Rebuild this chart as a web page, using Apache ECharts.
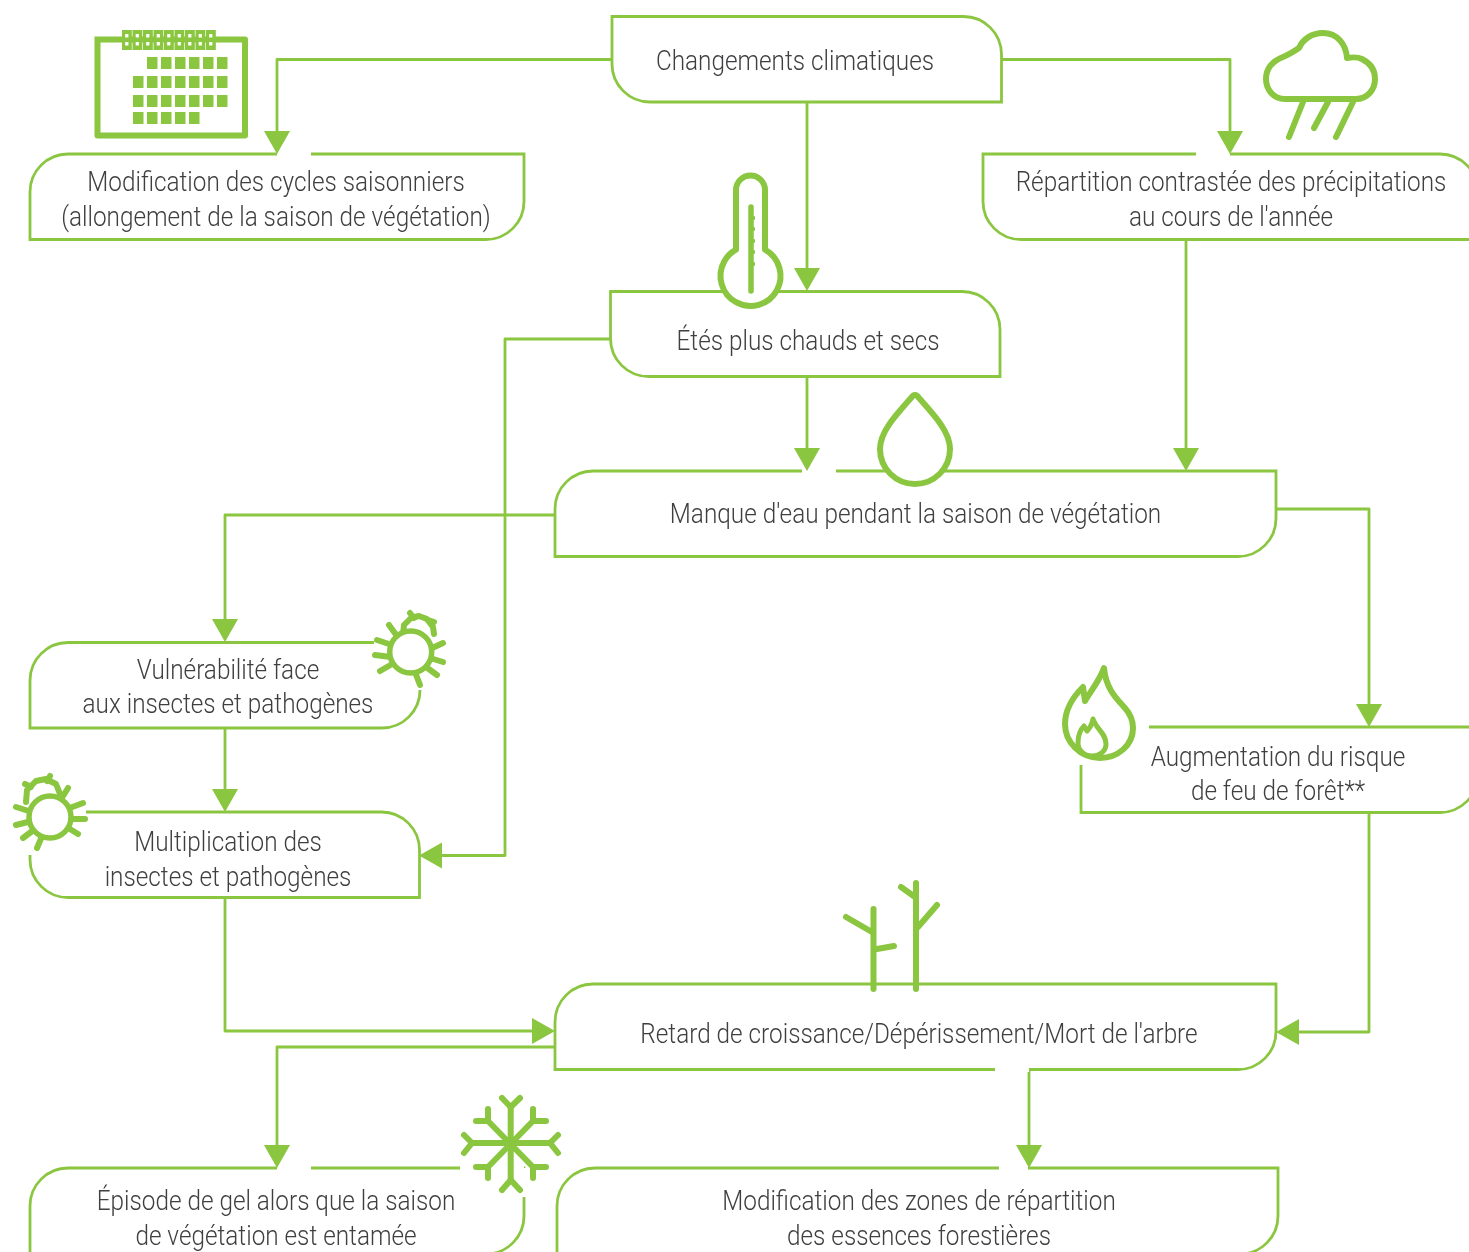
<!DOCTYPE html>
<html><head><meta charset="utf-8">
<script src="https://cdn.jsdelivr.net/npm/echarts@6/dist/echarts.min.js"></script>
<style>html,body{margin:0;padding:0;background:#fff}#c{width:1469px;height:1252px}</style></head>
<body><div id="c"></div>
<script>
const GREEN='#8AC63F', INK='#3F3F41';
// node captions
const nodeLines=[
 ['Changements climatiques'],
 ['Modification des cycles saisonniers','(allongement de la saison de végétation)'],
 ['Répartition contrastée des précipitations','au cours de l\'année'],
 ['Étés plus chauds et secs'],
 ['Manque d\'eau pendant la saison de végétation'],
 ['Vulnérabilité face','aux insectes et pathogènes'],
 ['Multiplication des','insectes et pathogènes'],
 ['Augmentation du risque','de feu de forêt**'],
 ['Retard de croissance/Dépérissement/Mort de l\'arbre'],
 ['Épisode de gel alors que la saison','de végétation est entamée'],
 ['Modification des zones de répartition','des essences forestières']
];
// caption anchors: centre x, centre y of each line
const nodeTextX=[795,276,1231,808,915.5,228,228,1278,919,276,919];
const nodeTextY=[[63],[184,219],[184,219],[343],[516],[672,706],[844,879],[759,793],[1036],[1203,1238],[1203,1238]];
// frames: x0,y0,x1,y1, radius TL,TR,BR,BL
const nodeFrames=[
 [612,16.5,1001.5,102,0,38,0,38],
 [30,154,524,239.5,38,0,38,0],
 [983,154,1478,239.5,0,38,0,38],
 [610.5,291.5,1000,376.5,0,38,0,38],
 [555,471,1276,556.5,38,0,38,0],
 [30,642.5,420,728,38,0,38,0],
 [30,812,419.5,897.5,0,38,0,38],
 [1081,727,1478,812.5,0,0,38,0],
 [555,984,1276,1069.5,38,0,38,0],
 [30,1168,524,1254,38,0,38,0],
 [557,1168,1278,1254,38,0,38,0]
];
// openings in the frames
const frameGaps=[
 [[277,154],[311,154]],[[1196,154],[1230,154]],[[802,471],[836,471]],
 [[374,642.5],[420,642.5]],[[420,642.5],[420,690]],
 [[30,812],[86,812]],[[30,812],[30,855]],
 [[1081,727],[1149,727]],[[1081,727],[1081,765]],
 [[995,1069.5],[1029,1069.5]],[[277,1168],[311,1168]],[[460,1168],[524,1168]],[[524,1168],[524,1197]],
 [[999,1168],[1028,1168]]
];
// connectors
const links=[
 [[612,59.5],[277,59.5],[277,135]],
 [[1001,59.5],[1230,59.5],[1230,135]],
 [[807,102],[807,272]],
 [[807,376],[807,452]],
 [[1186,239],[1186,452]],
 [[610,339],[505,339],[505,855.5],[440,855.5]],
 [[555,515],[225,515],[225,623]],
 [[225,728],[225,793]],
 [[225,897],[225,1031],[535,1031]],
 [[1276,509],[1369,509],[1369,708]],
 [[1369,812],[1369,1032],[1296,1032]],
 [[555,1047],[277,1047],[277,1149]],
 [[1029,1069],[1029,1149]]
];
// arrowheads: tip x, tip y, direction
const arrowTips=[[277,154,'d'],[1230,154,'d'],[807,291,'d'],[807,471,'d'],[1186,471,'d'],[419,855.5,'l'],[225,642,'d'],[225,812,'d'],[555,1031,'r'],[1369,727,'d'],[1276,1032,'l'],[277,1168,'d'],[1029,1168,'d']];
// icons, as strokes: path commands in chart units
const bugBodies=[[410.7,652],[50,817]];
const bugMarks=[
 [[403,634],[404,625],[411,618],[419,616],[427,619],[433,627],[434,634]],
 [[410,613],[414,618]],[[434,622],[428,620]],
 [[389,625],[397,636]],[[377,640],[392,645]],[[375,655],[391,657]],[[380,671],[394,663]],
 [[420,685],[415,672]],[[437,675],[426,667]],[[443,662],[430,658]],[[443,643],[430,649]],
 [[26,802],[27,790],[36,781],[46,779],[56,784],[60,794]],
 [[25,784],[31,787]],[[50,776],[47,781]],
 [[68,788],[60,801]],[[83,803],[67,809]],[[85,819],[68,819]],[[78,834],[65,826]],
 [[37,848],[43,834]],[[23,838],[35,829]],[[16,825],[32,821]],[[16,807],[32,812]]
];
const cloudShape=[['M',1285,99],['C',1273,99,1266,89,1266,79],['C',1266,68,1273,61,1283,57],['C',1290,54,1296,50,1299,48],['C',1303,39,1312,33,1323,33],['C',1337,33,1346,44,1347,58],['C',1353,57,1358,57,1362,59],['C',1370,63,1375,70,1375,79],['C',1375,90,1367,99,1356,99],['Z']];
const rainMarks=[[[1303,102],[1289,137]],[[1328,102],[1314,128]],[[1353,102],[1336,137]]];
const thermoShape=[['M',736,249.7],['L',736,190],['A',14.5,14.5,0,0,1,765,190],['L',765,249.7],['A',30,30,0,1,1,736,249.7],['Z']];
const thermoMarks=[[[751,207],[751,291]]];
const thermoTicks=[[[751,218],[755,218]],[[751,229],[755,229]],[[751,241],[755,241]],[[751,252],[755,252]],[[751,264],[755,264]]];
const dropShape=[['M',915,395],['Q',917,395,919,398],['C',935,416,950,432,950,449],['A',35,35,0,1,1,880,449],['C',880,432,895,416,911,398],['Q',913,395,915,395],['Z']];
const flameShape=[['M',1104,668],['C',1106,690,1118,700,1125,708],['C',1132,716,1133,722,1133,728],['C',1133,745,1118,758,1100,758],['C',1080,758,1065,742,1065,724],['C',1065,708,1075,695,1083,687],['L',1085,701],['C',1090,692,1100,680,1104,668],['Z']];
const flameInner=[['M',1093,719],['C',1096,729,1106,733,1106,744],['C',1106,751,1100,756,1092,756],['C',1084,756,1078,750,1078,743],['C',1078,735,1081,729,1084,726],['L',1087,731],['C',1090,728,1092,724,1093,719],['Z']];
const treeMarks=[
 [[873.5,909],[873.5,989]],[[846,917],[872,932]],[[877,949],[894,946]],
 [[916,883],[916,989]],[[901,887],[915,897]],[[918,927],[937,905]]
];
const snowMarks=[
 [[510.7,1107],[510.7,1180]],[[502,1098],[510.7,1107]],[[520,1098],[510.7,1107]],[[502,1190],[510.7,1180]],[[520,1190],[510.7,1180]],
 [[472,1143],[550,1143]],[[464,1135],[472,1143]],[[464,1153],[472,1143]],[[558,1135],[550,1143]],[[558,1153],[550,1143]],
 [[488,1121],[533,1167]],[[533,1121],[488,1167]],
 [[488,1109],[488,1121]],[[476,1121],[488,1121]],[[533,1109],[533,1121]],[[546,1121],[533,1121]],
 [[476,1167],[488,1167]],[[488,1178],[488,1167]],[[546,1167],[533,1167]],[[533,1178],[533,1167]]
];
// calendar
const calFrame=[[97.5,39.5],[245,39.5],[245,135.5],[97.5,135.5]];
const binderX=[122,132.5,143,153.5,164,174.5,185,195.5,206];
const binderY=[30,41];
const cellRows=[
 {y:57,xs:[147,161,175,189,203,217]},
 {y:76,xs:[133,147,161,175,189,203,217]},
 {y:95,xs:[133,147,161,175,189,203,217]},
 {y:112,xs:[133,147,161,175,189]}
];

function pathOf(api,cmds){
  return cmds.map(c=>{
    if(c[0]==='Z')return 'Z';
    if(c[0]==='A'){const e=api.coord([c[6],c[7]]);return `A${c[1]} ${c[2]} ${c[3]} ${c[4]} ${c[5]} ${e[0]} ${e[1]}`;}
    let s=c[0];for(let i=1;i<c.length;i+=2){const p=api.coord([c[i],c[i+1]]);s+=p[0]+' '+p[1]+' ';}return s;
  }).join('');
}
function framePath(f){
  const [a,b,c,d,tl,tr,br,bl]=f;const o=[['M',a+tl,b],['L',c-tr,b]];
  if(tr)o.push(['A',tr,tr,0,0,1,c,b+tr]);o.push(['L',c,d-br]);
  if(br)o.push(['A',br,br,0,0,1,c-br,d]);o.push(['L',a+bl,d]);
  if(bl)o.push(['A',bl,bl,0,0,1,a,d-bl]);o.push(['L',a,b+tl]);
  if(tl)o.push(['A',tl,tl,0,0,1,a+tl,b]);o.push(['Z']);return o;
}
function line(api,pts,w,color,cap){return {type:'polyline',shape:{points:pts.map(p=>api.coord(p))},style:{stroke:color||GREEN,lineWidth:w,fill:null,lineCap:cap||'round',lineJoin:'round'}};}
function shape(api,cmds,w,fill){return {type:'path',shape:{pathData:pathOf(api,cmds)},style:{stroke:GREEN,lineWidth:w,fill:fill||'#fff',lineJoin:'round'}};}
function rect(api,x,y,w,h,fill){const p=api.coord([x,y]),q=api.coord([x+w,y+h]);return {type:'rect',shape:{x:p[0],y:p[1],width:q[0]-p[0],height:q[1]-p[1]},style:{fill:fill}};}
function circle(api,c,r,w){const p=api.coord(c);return {type:'circle',shape:{cx:p[0],cy:p[1],r:r},style:{stroke:GREEN,lineWidth:w,fill:'#fff'}};}

const layer=(n,z,render)=>({type:'custom',coordinateSystem:'cartesian2d',xAxisIndex:0,yAxisIndex:0,z:z,clip:false,silent:true,animation:false,
  data:Array.from({length:n},(_,i)=>[i]),encode:{x:0,y:0},renderItem:(p,api)=>render(p.dataIndex,api)});

const iconDraw=[
 api=>({type:'group',children:[
   line(api,calFrame.concat([calFrame[0]]),6,GREEN,'square'),
   ...binderX.map(x=>rect(api,x,binderY[0],9.8,20,GREEN)),
   ...binderX.map(x=>rect(api,x+3.2,binderY[0]+4,3.2,3.5,'#fff')),
   ...binderX.map(x=>rect(api,x+3.2,binderY[1]+1,3.2,3.5,'#fff')),
   ...cellRows.flatMap(r=>r.xs.map(x=>rect(api,x,r.y,10.5,12,GREEN)))
 ]}),
 api=>({type:'group',children:[shape(api,cloudShape,6,'#fff'),...rainMarks.map(m=>line(api,m,6))]}),
 api=>({type:'group',children:[shape(api,thermoShape,6),...thermoMarks.map(m=>line(api,m,5.5)),...thermoTicks.map(m=>line(api,m,3.5,GREEN,'butt'))]}),
 api=>shape(api,dropShape,6),
 api=>({type:'group',children:[
   ...bugMarks.map(m=>line(api,m,6)),
   ...bugBodies.map(c=>circle(api,c,21,5.5))
 ]}),
 api=>({type:'group',children:[shape(api,flameShape,6),shape(api,flameInner,5)]}),
 api=>({type:'group',children:treeMarks.map(m=>line(api,m,6))}),
 api=>({type:'group',children:snowMarks.map(m=>line(api,m,6))})
];

const FONT_SIZE=27, STRETCH=0.90;
const chart=echarts.init(document.getElementById('c'),null,{renderer:'canvas'});
chart.setOption({
 animation:false,backgroundColor:'#fff',
 grid:{left:0,right:0,top:0,bottom:0},
 xAxis:{type:'value',min:0,max:1469,show:false},
 yAxis:{type:'value',min:0,max:1252,inverse:true,show:false},
 series:[
  layer(links.length,1,(i,api)=>line(api,links[i],2.8,GREEN,'butt')),
  layer(nodeFrames.length,2,(i,api)=>({type:'path',shape:{pathData:pathOf(api,framePath(nodeFrames[i]))},style:{stroke:GREEN,lineWidth:2.8,fill:null}})),
  layer(frameGaps.length,3,(i,api)=>line(api,frameGaps[i],5,'#fff','butt')),
  layer(arrowTips.length,4,(i,api)=>{
    const [x,y,d]=arrowTips[i];const L=23,H=13;
    const pts=d==='d'?[[x,y],[x-H,y-L],[x+H,y-L]]:d==='l'?[[x,y],[x+L,y-H],[x+L,y+H]]:[[x,y],[x-L,y-H],[x-L,y+H]];
    return {type:'polygon',shape:{points:pts.map(p=>api.coord(p))},style:{fill:GREEN}};
  }),
  layer(iconDraw.length,5,(i,api)=>iconDraw[i](api)),
  layer(nodeLines.length,6,(i,api)=>({type:'group',children:nodeLines[i].map((t,j)=>{
    const p=api.coord([nodeTextX[i],nodeTextY[i][j]]);
    return {type:'text',x:p[0],y:p[1],scaleX:STRETCH,style:{text:t,x:0,y:0,align:'center',verticalAlign:'middle',fill:INK,fontFamily:'Roboto',fontWeight:300,fontSize:FONT_SIZE}};
  })}))
 ]
});
</script></body></html>
